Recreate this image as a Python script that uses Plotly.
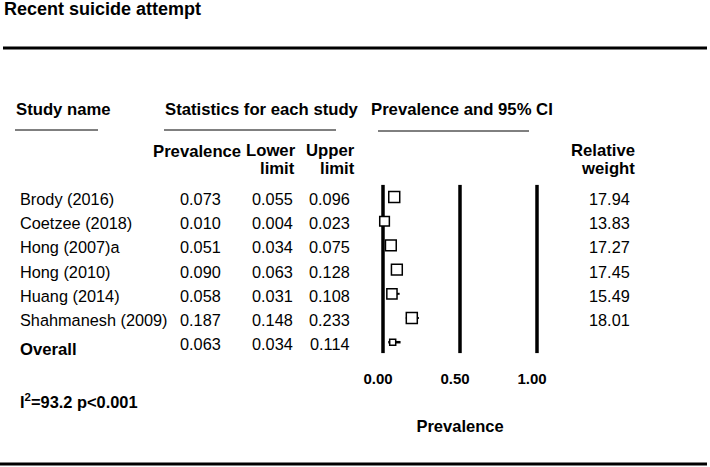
import plotly.graph_objects as go

# ---------------- data ----------------
studies = ["Brody (2016)", "Coetzee (2018)", "Hong (2007)a", "Hong (2010)",
           "Huang (2014)", "Shahmanesh (2009)"]
prevalence = [0.073, 0.010, 0.051, 0.090, 0.058, 0.187]
lower = [0.055, 0.004, 0.034, 0.063, 0.031, 0.148]
upper = [0.096, 0.023, 0.075, 0.128, 0.108, 0.233]
weights = [17.94, 13.83, 17.27, 17.45, 15.49, 18.01]

overall_label = "Overall"
overall_prev = [0.063]
overall_lower = [0.034]
overall_upper = [0.114]

i2_value = 93.2
p_text = "p&lt;0.001"

axis_ticks = [0.0, 0.5, 1.0]
axis_ticktext = ["0.00", "0.50", "1.00"]

# ---------------- layout helpers ----------------
W, H = 710, 467
ROW0, PITCH = 197.0, 24.2
FONT = "Liberation Sans, Arial, sans-serif"
REG, BOLD = 16.3, 16.7
X0_PX, X1_PX, PAD_PX = 383, 537, 20          # pixel position of 0 and 1, plus padding
PAD = PAD_PX / (X1_PX - X0_PX)


def px(p):
    return p / W


def py(p):
    return 1 - p / H


rows = list(range(len(studies)))
overall_row = len(studies)

fig = go.Figure()

# confidence intervals (drawn first, under the markers)
ci_x, ci_y = [], []
for r, l, u in zip(rows, lower, upper):
    ci_x += [l, u, None]
    ci_y += [r, r, None]
fig.add_trace(go.Scatter(x=ci_x, y=ci_y, mode="lines",
                         line=dict(color="black", width=2), cliponaxis=False,
                         showlegend=False, hoverinfo="skip"))
fig.add_trace(go.Scatter(x=[overall_lower[0], overall_upper[0]],
                         y=[overall_row, overall_row], mode="lines",
                         line=dict(color="black", width=2.5), cliponaxis=False,
                         showlegend=False, hoverinfo="skip"))

# study markers
sizes = [11 * (w / 18.0) ** 0.5 for w in weights]
fig.add_trace(go.Scatter(
    x=prevalence, y=rows, mode="markers", cliponaxis=False,
    marker=dict(symbol="square", size=sizes, color="white", opacity=1,
                line=dict(color="black", width=1.5)),
    showlegend=False, hoverinfo="skip",
))
# overall marker
fig.add_trace(go.Scatter(
    x=overall_prev, y=[overall_row], mode="markers", cliponaxis=False,
    marker=dict(symbol="square", size=6, color="white", opacity=1,
                line=dict(color="black", width=1.5)),
    showlegend=False, hoverinfo="skip",
))

shapes = []
# reference vertical lines
for t in axis_ticks:
    shapes.append(dict(type="line", xref="x", yref="y", x0=t, x1=t,
                       y0=-0.5, y1=6.45, layer="below",
                       line=dict(color="black", width=3.5)))
# horizontal rules
shapes.append(dict(type="line", xref="paper", yref="paper", x0=px(3), x1=px(707),
                   y0=py(48), y1=py(48), line=dict(color="black", width=3)))
shapes.append(dict(type="line", xref="paper", yref="paper", x0=px(0), x1=px(707),
                   y0=py(464), y1=py(464), line=dict(color="black", width=3)))
# header underlines
for x0, x1, y in [(15, 98, 130), (164, 336, 130), (378, 529, 131)]:
    shapes.append(dict(type="line", xref="paper", yref="paper", x0=px(x0), x1=px(x1),
                       y0=py(y), y1=py(y), line=dict(color="black", width=1)))

ann = []


def text(s, x, y, anchor="left", size=REG, bold=False, yref="paper", yshift=0):
    ann.append(dict(text=f"<b>{s}</b>" if bold else s, x=x, y=y, xref="paper",
                    yref=yref, xanchor=anchor, yanchor="middle", showarrow=False,
                    yshift=yshift, font=dict(family=FONT, size=size, color="black")))


text("Recent suicide attempt", px(2), py(8.5), size=18, bold=True)
text("Study name", px(14), py(109), size=BOLD, bold=True)
text("Statistics for each study", px(163), py(109), size=BOLD, bold=True)
text("Prevalence and 95% CI", px(369), py(109), size=BOLD, bold=True)
text("Prevalence", px(243), py(151), anchor="right", size=BOLD, bold=True)
text("Lower", px(298), py(150.5), anchor="right", size=BOLD, bold=True)
text("limit", px(297), py(168.5), anchor="right", size=BOLD, bold=True)
text("Upper", px(357), py(150.5), anchor="right", size=BOLD, bold=True)
text("limit", px(357), py(168.5), anchor="right", size=BOLD, bold=True)
text("Relative", px(637), py(150.5), anchor="right", size=BOLD, bold=True)
text("weight", px(637), py(168.5), anchor="right", size=BOLD, bold=True)

for r, name, p, l, u, w in zip(rows, studies, prevalence, lower, upper, weights):
    text(name, px(18), r, yref="y", yshift=-2)
    text(f"{p:.3f}", px(223), r, anchor="right", yref="y", yshift=-2)
    text(f"{l:.3f}", px(295), r, anchor="right", yref="y", yshift=-2)
    text(f"{u:.3f}", px(352), r, anchor="right", yref="y", yshift=-2)
    text(f"{w:.2f}", px(632), r, anchor="right", yref="y", yshift=-2)

text(overall_label, px(18), overall_row, yref="y", size=BOLD, bold=True, yshift=-7)
text(f"{overall_prev[0]:.3f}", px(223), overall_row, anchor="right", yref="y", yshift=-2)
text(f"{overall_lower[0]:.3f}", px(295), overall_row, anchor="right", yref="y", yshift=-2)
text(f"{overall_upper[0]:.3f}", px(352), overall_row, anchor="right", yref="y", yshift=-2)

text(f"I<sup>2</sup>={i2_value} {p_text}", px(18), py(401), bold=True, size=16.4)

fig.update_layout(
    template="none",
    width=W, height=H, autosize=False,
    margin=dict(l=0, r=0, t=0, b=0, pad=0, autoexpand=False),
    paper_bgcolor="white", plot_bgcolor="white",
    shapes=shapes, annotations=ann, showlegend=False,
    xaxis=dict(domain=[px(X0_PX - PAD_PX), px(X1_PX + PAD_PX)],
               range=[-PAD, 1 + PAD], anchor="free",
               position=py(368), automargin=False,
               showgrid=False, zeroline=False, showline=False,
               tickvals=axis_ticks, ticktext=[f"<b>{t}</b>" for t in axis_ticktext],
               ticks="", ticklabelshift=-5,
               tickfont=dict(family=FONT, size=15, color="black"),
               title=dict(text="<b>Prevalence</b>", standoff=34,
                          font=dict(family=FONT, size=16.5, color="black"))),
    yaxis=dict(domain=[0, 1], range=[(H - ROW0) / PITCH, -ROW0 / PITCH],
               visible=False, automargin=False),
)

fig.write_html("out.html", config={"displayModeBar": False},
               post_script="document.body.style.margin='0';")
